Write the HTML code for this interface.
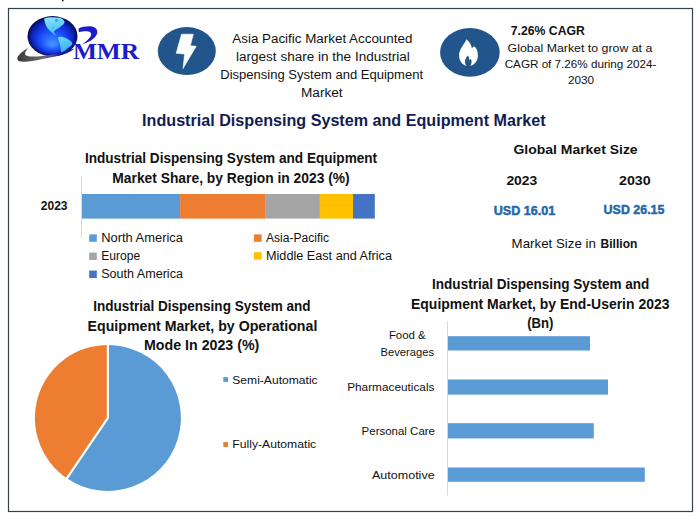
<!DOCTYPE html>
<html><head><meta charset="utf-8"><title>Industrial Dispensing System and Equipment Market</title>
<style>
html,body{margin:0;padding:0;background:#fff;}
body{width:700px;height:521px;overflow:hidden;}
svg{display:block;}
text{font-family:"Liberation Sans",Arial,sans-serif;white-space:pre;}
</style></head><body>
<svg width="700" height="521" viewBox="0 0 700 521">
<defs>
<radialGradient id="globe" cx="0.5" cy="0.5" r="0.5" fx="0.5" fy="0.72">
<stop offset="0" stop-color="#4a9aff"/>
<stop offset="0.35" stop-color="#2464ff"/>
<stop offset="0.65" stop-color="#1438e6"/>
<stop offset="0.84" stop-color="#0b22b0"/>
<stop offset="0.95" stop-color="#061070"/>
<stop offset="1" stop-color="#030640"/>
</radialGradient>
<linearGradient id="swoosh" gradientUnits="userSpaceOnUse" x1="17" y1="0" x2="75" y2="0">
<stop offset="0" stop-color="#3a3a3a"/>
<stop offset="0.42" stop-color="#6a6a6a"/>
<stop offset="0.58" stop-color="#55558a"/>
<stop offset="0.74" stop-color="#1a1aa0"/>
<stop offset="1" stop-color="#10108a"/>
</linearGradient>
<linearGradient id="cont" x1="0" y1="0" x2="0.3" y2="1">
<stop offset="0" stop-color="#8ae6ff"/>
<stop offset="1" stop-color="#45c0f4"/>
</linearGradient>
<linearGradient id="cont2" x1="0" y1="0" x2="0.4" y2="1">
<stop offset="0" stop-color="#6ad8ff"/>
<stop offset="1" stop-color="#3aaef0"/>
</linearGradient>
<linearGradient id="usd" x1="0" y1="0" x2="0" y2="1">
<stop offset="0" stop-color="#3b8ad0"/>
<stop offset="1" stop-color="#1f5f9c"/>
</linearGradient>
</defs>
<rect x="8.5" y="8.5" width="684" height="503" fill="#fff" stroke="#33434d" stroke-width="1.2"/>
<rect x="62" y="0" width="1.5" height="1.3" fill="#111"/>
<!-- logo -->
<ellipse cx="52.5" cy="36.2" rx="25" ry="20.1" fill="url(#globe)"/>
<path d="M44.2,18.4 C47,17.6 49.5,17.3 51.4,17.3 C54.5,17.2 57.5,17.4 59.8,17.8 C61.8,18.5 63.5,19.5 64.2,21 C64.8,22.3 64.5,23.5 63.3,24.5 C62.5,25.2 61.5,25.8 60.8,26.5 C59.8,27.5 58.8,28.3 57.6,28.8 C56.2,29.5 55,30.2 54.2,31.2 C53.6,32 54,33 54.8,33.8 C55.5,34.5 55.8,35.2 55.4,35.6 C54.2,34.8 53,33.6 51.8,32.6 C50.3,31.3 48.8,30 47.8,28.6 C46.8,27.2 46.2,25.8 45.6,24.4 C45,22.8 44.5,21.2 44.3,19.8 Z" fill="url(#cont)"/>
<path d="M55.5,19.2 C56.8,18.9 58.2,19.5 58.5,20.6 C58.3,21.6 57,22.1 55.9,21.8 C55,21.4 54.7,20.2 55.5,19.2 Z M52.3,27.2 C53.2,27 54,27.6 53.8,28.3 C53.2,28.8 52.3,28.6 52,28 Z" fill="#3f8af0" opacity="0.8"/>
<path d="M58.1,37.2 C59.5,36.8 61,36.7 62.3,36.8 C63.8,37.2 65.3,37.8 66.6,38.5 C68.5,39.5 70.3,40.6 71.6,41.9 C72.3,42.8 72.4,43.7 72.1,44.4 C71,45.8 69.6,46.8 68.3,47.8 C66.8,49 65.4,50.1 64,51.2 C63.2,51.9 62.3,52.5 61.5,52.9 C61,51.8 60.8,50.6 60.7,49.5 C60.5,47.5 60.3,45.5 59.8,43.6 C59.4,42.4 59,41.3 58.5,40.2 C58.1,39.2 57.9,38.1 58.1,37.2 Z" fill="url(#cont2)"/>
<path d="M28.5,47.6 C24,50.5 16.5,55.5 17.4,59.6 C18.5,63.2 28,61.8 38,60 C47,58 56,57 63,54.6 C68,52.8 72,50.8 74.6,48.4 C71,49.6 67,50.6 63,51.8 C57,53.6 50,55.2 42,56 C34,56.8 26.5,57.2 25.2,54.6 C24.6,52.6 26.5,49.8 28.5,47.6 Z" fill="url(#swoosh)"/>
<path d="M78.7,28.6 C81,26.8 86,26.2 90.6,26.3 C94,26.5 96.8,28.5 97.3,31.3 C97.6,35 94.5,38.5 90.5,40.8 C88,42.3 85,43.4 82.3,44.3 C85.5,42 88.5,39.5 90.2,37 C91.3,35.3 91.6,33.5 90.4,32.4 C88.5,31 85,31.2 82.5,31.6 C81,31.8 79.8,32 79.1,32.2 C78.5,31 78.4,29.6 78.7,28.6 Z" fill="#1c1cc8"/>
<!-- icon circles -->
<ellipse cx="186.8" cy="51.1" rx="29" ry="24" fill="#21558b"/>
<polygon points="181.5,34.2 193.3,34.2 190.3,45.8 196.2,46.3 183,68.6 184.6,54 176.2,53.3" fill="#fff" stroke="#fff" stroke-width="0.6" stroke-linejoin="round"/>
<ellipse cx="469.9" cy="52.4" rx="29.8" ry="24.3" fill="#21558b"/>
<path d="M466.4,39.2 C465,43.5 459,48.5 459.1,55.5 C459.2,61.5 463,66 468.2,66 C474,66 477.9,61.5 477.9,55.5 C477.9,51.5 476.5,48.3 474.5,46.6 C473.6,46.4 472.6,47.2 471.9,48.6 C471.5,45 469.5,41.5 466.4,39.2 Z" fill="#fff"/>
<path d="M467.8,55.6 C466.5,57.5 465,59 465,61.5 C465,63.8 466,65.5 467,66.4 L469.6,66.4 C470.8,65.3 471.6,63.8 471.6,61.8 C471.6,60.5 471.2,59.5 470.7,58.8 C470.4,59.6 470,60 469.4,60.2 C469.3,58.3 468.8,56.8 467.8,55.6 Z" fill="#21558b"/>
<!-- stacked bar -->
<line x1="81.5" y1="176" x2="81.5" y2="238" stroke="#d9d9d9" stroke-width="1"/>
<rect x="82" y="194" width="98.1" height="24.6" fill="#5b9bd5"/>
<rect x="180.1" y="194" width="85" height="24.6" fill="#ed7d31"/>
<rect x="265.1" y="194" width="54.8" height="24.6" fill="#a5a5a5"/>
<rect x="319.9" y="194" width="33.1" height="24.6" fill="#ffc000"/>
<rect x="353" y="194" width="21.8" height="24.6" fill="#4472c4"/>
<!-- legend squares -->
<rect x="89.2" y="234.4" width="7.6" height="7.4" fill="#5b9bd5"/>
<rect x="89.2" y="252.6" width="7.6" height="7.4" fill="#a5a5a5"/>
<rect x="89.2" y="270.6" width="7.6" height="7.4" fill="#4472c4"/>
<rect x="254" y="234.4" width="7.6" height="7.4" fill="#ed7d31"/>
<rect x="254" y="252.2" width="7.6" height="7.4" fill="#ffc000"/>
<!-- pie -->
<path d="M107.9,417.9 L107.9,344.90 A73.0,73.0 0 1 1 66.87,478.28 Z" fill="#5b9bd5"/>
<path d="M107.9,417.9 L66.87,478.28 A73.0,73.0 0 0 1 107.9,344.90 Z" fill="#ed7d31"/>
<path d="M107.9,343.90 L107.9,417.9 L66.31,479.10" fill="none" stroke="#fff" stroke-width="2.2" stroke-linejoin="round"/>
<rect x="223.3" y="377.1" width="4.8" height="4.8" fill="#5b9bd5"/>
<rect x="223.3" y="442.1" width="4.8" height="4.8" fill="#ed7d31"/>
<!-- bar chart 2 -->
<line x1="447.5" y1="321" x2="447.5" y2="495.5" stroke="#d9d9d9" stroke-width="1"/>
<rect x="448" y="336.2" width="142" height="14.3" fill="#5b9bd5"/>
<rect x="448" y="379.5" width="160" height="15.1" fill="#5b9bd5"/>
<rect x="448" y="423.2" width="145.8" height="15.2" fill="#5b9bd5"/>
<rect x="448" y="467.5" width="196.8" height="14.3" fill="#5b9bd5"/>

<g>
<text x="72.90" y="58.80" font-size="22.6" font-weight="bold" style="font-family:'Liberation Serif',serif" fill="#1c1cc8" textLength="66.23" lengthAdjust="spacingAndGlyphs">MMR</text>
<text x="232.30" y="42.70" font-size="12.0" fill="#111111" textLength="180.05" lengthAdjust="spacingAndGlyphs">Asia Pacific Market Accounted</text>
<text x="236.00" y="60.50" font-size="12.0" fill="#111111" textLength="173.85" lengthAdjust="spacingAndGlyphs">largest share in the Industrial</text>
<text x="220.30" y="78.80" font-size="12.0" fill="#111111" textLength="202.78" lengthAdjust="spacingAndGlyphs">Dispensing System and Equipment</text>
<text x="301.00" y="96.80" font-size="12.0" fill="#111111" textLength="41.64" lengthAdjust="spacingAndGlyphs">Market</text>
<text x="510.80" y="35.10" font-size="12.6" font-weight="bold" fill="#111111" textLength="74.09" lengthAdjust="spacingAndGlyphs">7.26% CAGR</text>
<text x="507.60" y="52.30" font-size="11.8" fill="#111111" textLength="144.74" lengthAdjust="spacingAndGlyphs">Global Market to grow at a</text>
<text x="504.70" y="67.60" font-size="11.8" fill="#111111" textLength="151.73" lengthAdjust="spacingAndGlyphs">CAGR of 7.26% during 2024-</text>
<text x="567.90" y="83.60" font-size="11.8" fill="#111111" textLength="26.26" lengthAdjust="spacingAndGlyphs">2030</text>
<text x="142.08" y="125.60" font-size="15.9" font-weight="bold" fill="#111d52" textLength="403.50" lengthAdjust="spacingAndGlyphs">Industrial Dispensing System and Equipment Market</text>
<text x="84.90" y="162.80" font-size="14.2" font-weight="bold" fill="#111111" textLength="292.24" lengthAdjust="spacingAndGlyphs">Industrial Dispensing System and Equipment</text>
<text x="112.30" y="182.60" font-size="14.2" font-weight="bold" fill="#111111" textLength="237.43" lengthAdjust="spacingAndGlyphs">Market Share, by Region in 2023 (%)</text>
<text x="40.80" y="209.80" font-size="12.0" font-weight="bold" fill="#111111" textLength="26.77" lengthAdjust="spacingAndGlyphs">2023</text>
<text x="101.20" y="241.70" font-size="12.0" fill="#111111" textLength="81.75" lengthAdjust="spacingAndGlyphs">North America</text>
<text x="101.20" y="259.90" font-size="12.0" fill="#111111" textLength="39.07" lengthAdjust="spacingAndGlyphs">Europe</text>
<text x="101.20" y="277.60" font-size="12.0" fill="#111111" textLength="81.76" lengthAdjust="spacingAndGlyphs">South America</text>
<text x="266.00" y="242.00" font-size="12.0" fill="#111111" textLength="63.10" lengthAdjust="spacingAndGlyphs">Asia-Pacific</text>
<text x="266.00" y="260.00" font-size="12.0" fill="#111111" textLength="125.96" lengthAdjust="spacingAndGlyphs">Middle East and Africa</text>
<text x="513.40" y="154.40" font-size="13.0" font-weight="bold" fill="#111111" textLength="124.25" lengthAdjust="spacingAndGlyphs">Global Market Size</text>
<text x="506.40" y="184.60" font-size="12.8" font-weight="bold" fill="#111111" textLength="30.93" lengthAdjust="spacingAndGlyphs">2023</text>
<text x="619.00" y="184.60" font-size="12.8" font-weight="bold" fill="#111111" textLength="31.73" lengthAdjust="spacingAndGlyphs">2030</text>
<text x="493.80" y="214.60" font-size="12.2" font-weight="bold" stroke="#2267a9" stroke-width="0.45" fill="#2267a9" textLength="61.47" lengthAdjust="spacingAndGlyphs">USD 16.01</text>
<text x="603.60" y="213.80" font-size="12.2" font-weight="bold" stroke="#2267a9" stroke-width="0.45" fill="#2267a9" textLength="60.87" lengthAdjust="spacingAndGlyphs">USD 26.15</text>
<text x="511.58" y="248.00" font-size="13.0" fill="#111111" textLength="84.26" lengthAdjust="spacingAndGlyphs">Market Size in</text>
<text x="600.60" y="248.00" font-size="13.0" font-weight="bold" fill="#111111" textLength="36.75" lengthAdjust="spacingAndGlyphs">Billion</text>
<text x="93.30" y="311.20" font-size="14.2" font-weight="bold" fill="#111111" textLength="217.34" lengthAdjust="spacingAndGlyphs">Industrial Dispensing System and</text>
<text x="87.60" y="331.00" font-size="14.2" font-weight="bold" fill="#111111" textLength="229.74" lengthAdjust="spacingAndGlyphs">Equipment Market, by Operational</text>
<text x="144.00" y="350.10" font-size="14.2" font-weight="bold" fill="#111111" textLength="115.32" lengthAdjust="spacingAndGlyphs">Mode In 2023 (%)</text>
<text x="232.30" y="383.70" font-size="10.8" fill="#111111" textLength="85.33" lengthAdjust="spacingAndGlyphs">Semi-Automatic</text>
<text x="232.30" y="447.60" font-size="10.8" fill="#111111" textLength="83.92" lengthAdjust="spacingAndGlyphs">Fully-Automatic</text>
<text x="432.10" y="288.60" font-size="14.2" font-weight="bold" fill="#111111" textLength="217.13" lengthAdjust="spacingAndGlyphs">Industrial Dispensing System and</text>
<text x="411.00" y="308.60" font-size="14.2" font-weight="bold" fill="#111111" textLength="258.49" lengthAdjust="spacingAndGlyphs">Equipment Market, by End-Userin 2023</text>
<text x="527.20" y="327.90" font-size="14.2" font-weight="bold" fill="#111111" textLength="26.25" lengthAdjust="spacingAndGlyphs">(Bn)</text>
<text x="388.90" y="338.90" font-size="10.8" fill="#111111" textLength="36.85" lengthAdjust="spacingAndGlyphs">Food &amp;</text>
<text x="380.60" y="356.00" font-size="10.8" fill="#111111" textLength="53.38" lengthAdjust="spacingAndGlyphs">Beverages</text>
<text x="347.20" y="390.80" font-size="10.8" fill="#111111" textLength="87.24" lengthAdjust="spacingAndGlyphs">Pharmaceuticals</text>
<text x="361.60" y="435.00" font-size="10.8" fill="#111111" textLength="73.41" lengthAdjust="spacingAndGlyphs">Personal Care</text>
<text x="372.00" y="478.70" font-size="10.8" fill="#111111" textLength="62.61" lengthAdjust="spacingAndGlyphs">Automotive</text>
</g>
</svg>
</body></html>
